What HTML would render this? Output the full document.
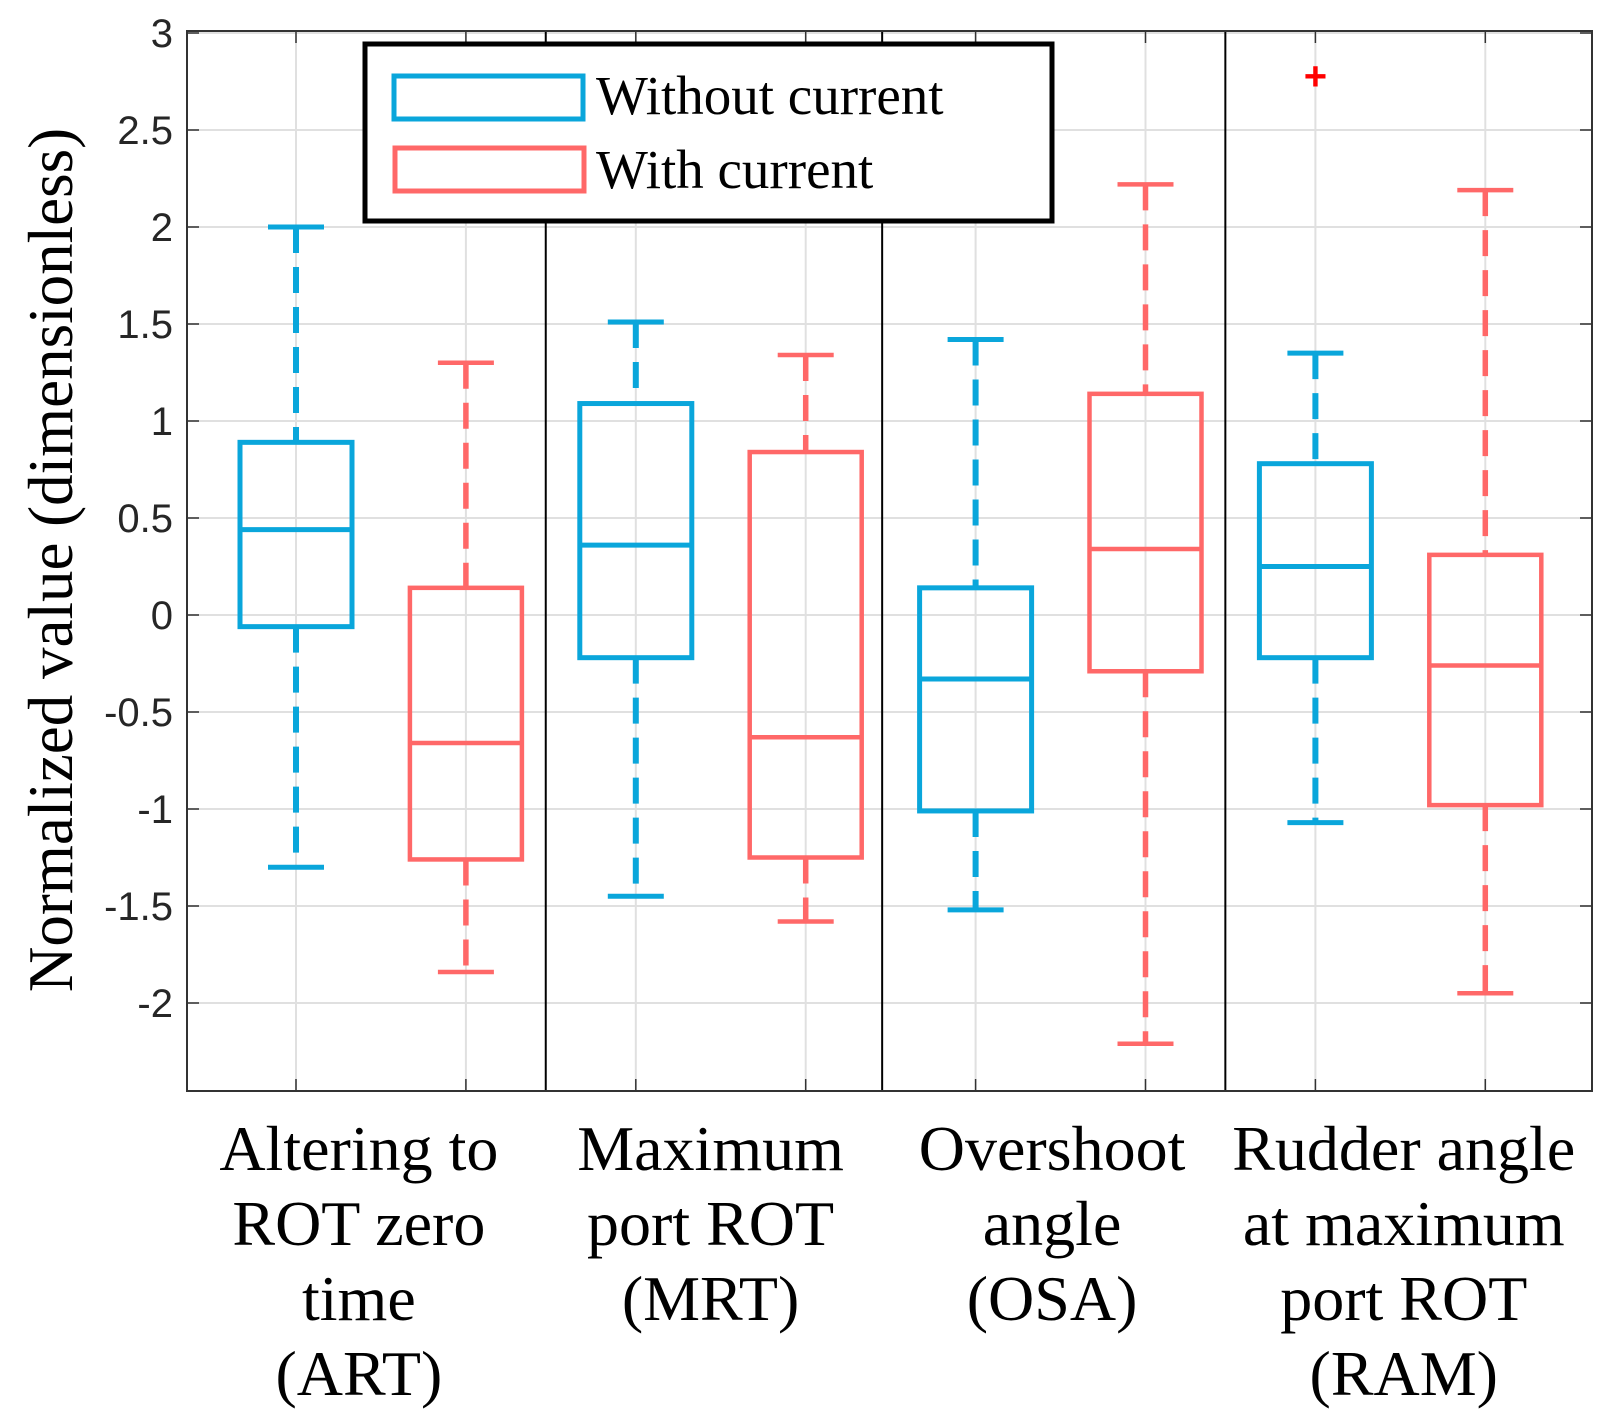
<!DOCTYPE html>
<html><head><meta charset="utf-8"><style>
html,body{margin:0;padding:0;background:#fff;}
svg{display:block;}
</style></head><body>
<svg id="chart" width="1617" height="1421" xmlns="http://www.w3.org/2000/svg"></svg>
<script>
const positions=[1,2,3,4,5,6,7,8];
const series=["without","with","without","with","without","with","without","with"];
const whiskerHigh=[2.0,1.3,1.51,1.34,1.42,2.22,1.35,2.19];
const q3=[0.89,0.14,1.09,0.84,0.14,1.14,0.78,0.31];
const medians=[0.44,-0.66,0.36,-0.63,-0.33,0.34,0.25,-0.26];
const q1=[-0.06,-1.26,-0.22,-1.25,-1.01,-0.29,-0.22,-0.98];
const whiskerLow=[-1.3,-1.84,-1.45,-1.58,-1.52,-2.21,-1.07,-1.95];
const outlierPos=[7];
const outlierVal=[2.78];
const yTicks=[3,2.5,2,1.5,1,0.5,0,-0.5,-1,-1.5,-2];
const yTickLabels=["3","2.5","2","1.5","1","0.5","0","-0.5","-1","-1.5","-2"];
const dividers=[2.47,4.45,6.47];
const categories=[["Altering to","ROT zero","time","(ART)"],["Maximum","port ROT","(MRT)"],["Overshoot","angle","(OSA)"],["Rudder angle","at maximum","port ROT","(RAM)"]];
const catCenters=[1.37,3.44,5.45,7.52];

const L=187,R=1592,T=31,B=1091;
const ymax=3,unit=194,y0=33;
function y(v){return y0+(ymax-v)*unit;}
function x(p){return 296+(p-1)*169.9;}
const svg=document.getElementById('chart');
const NS="http://www.w3.org/2000/svg";
function el(t,a,parent){const e=document.createElementNS(NS,t);for(const k in a)e.setAttribute(k,a[k]);(parent||svg).appendChild(e);return e;}
const col={without:"#0aa6db",with:"#ff6868"};

positions.forEach(p=>{const g=el('line',{x1:x(p),x2:x(p),y1:T,y2:B,stroke:"#e0e0e0","stroke-width":2});

});
yTicks.forEach((v,i)=>{const g=el('line',{x1:L,x2:R,y1:y(v),y2:y(v),stroke:"#e0e0e0","stroke-width":2});


const tl=el('line',{x1:L,x2:L+12,y1:y(v),y2:y(v),stroke:"#333","stroke-width":1.5});


const tr=el('line',{x1:R-12,x2:R,y1:y(v),y2:y(v),stroke:"#333","stroke-width":1.5});


const t=el('text',{x:L-14,y:y(v)+14,"text-anchor":"end","font-family":"Liberation Sans, sans-serif","font-size":40,fill:"#262626"});
t.textContent=yTickLabels[i];

});
positions.forEach(p=>{const a=el('line',{x1:x(p),x2:x(p),y1:B-12,y2:B,stroke:"#333","stroke-width":1.5});


const b=el('line',{x1:x(p),x2:x(p),y1:T,y2:T+12,stroke:"#333","stroke-width":1.5});

});
dividers.forEach(d=>{const l=el('line',{x1:x(d),x2:x(d),y1:T,y2:B,stroke:"#000","stroke-width":2});

});
const frame=el('rect',{x:L,y:T,width:R-L,height:B-T,fill:"none",stroke:"#333","stroke-width":2});



const hw=56,cw=28;
positions.forEach((p,i)=>{
 const c=col[series[i]];const cx=x(p);
 const sw=series[i]==="without"?5:4.5;
 const g=el('g',{});
 
 
 el('line',{x1:cx,x2:cx,y1:y(whiskerHigh[i]),y2:y(q3[i]),stroke:c,"stroke-width":sw+1,"stroke-dasharray":"26 14"},g);
 el('line',{x1:cx,x2:cx,y1:y(q1[i]),y2:y(whiskerLow[i]),stroke:c,"stroke-width":sw+1,"stroke-dasharray":"26 14"},g);
 el('line',{x1:cx-cw,x2:cx+cw,y1:y(whiskerHigh[i]),y2:y(whiskerHigh[i]),stroke:c,"stroke-width":sw},g);
 el('line',{x1:cx-cw,x2:cx+cw,y1:y(whiskerLow[i]),y2:y(whiskerLow[i]),stroke:c,"stroke-width":sw},g);
 el('rect',{x:cx-hw,y:y(q3[i]),width:2*hw,height:y(q1[i])-y(q3[i]),fill:"none",stroke:c,"stroke-width":sw},g);
 el('line',{x1:cx-hw,x2:cx+hw,y1:y(medians[i]),y2:y(medians[i]),stroke:c,"stroke-width":sw},g);
});
outlierPos.forEach((p,i)=>{const o=el('text',{x:x(p),y:y(outlierVal[i])+14,"text-anchor":"middle","font-family":"Liberation Sans, sans-serif","font-size":40,"font-weight":"bold",fill:"#ff0000"});
o.textContent="+";

});

categories.forEach((lines,i)=>{lines.forEach((s,j)=>{const t=el('text',{x:x(catCenters[i]),y:1170+j*75,"text-anchor":"middle","font-family":"Liberation Serif, serif","font-size":64,fill:"#000"});
t.textContent=s;

});});

const yt=el('text',{x:0,y:0,transform:"translate(72,560) rotate(-90)","text-anchor":"middle","font-family":"Liberation Serif, serif","font-size":63,fill:"#000"});
yt.textContent="Normalized value (dimensionless)";



const lg=el('g',{});


el('rect',{x:365,y:44,width:687,height:177,fill:"#fff",stroke:"#000","stroke-width":5},lg);
el('rect',{x:394,y:76,width:189,height:43,fill:"none",stroke:col.without,"stroke-width":5},lg);
el('rect',{x:395,y:148,width:189,height:43,fill:"none",stroke:col.with,"stroke-width":5},lg);
const l1=el('text',{x:596,y:114,"font-family":"Liberation Serif, serif","font-size":55,fill:"#000"},lg);l1.textContent="Without current";


const l2=el('text',{x:596,y:188,"font-family":"Liberation Serif, serif","font-size":55,fill:"#000"},lg);l2.textContent="With current";


</script>
</body></html>
